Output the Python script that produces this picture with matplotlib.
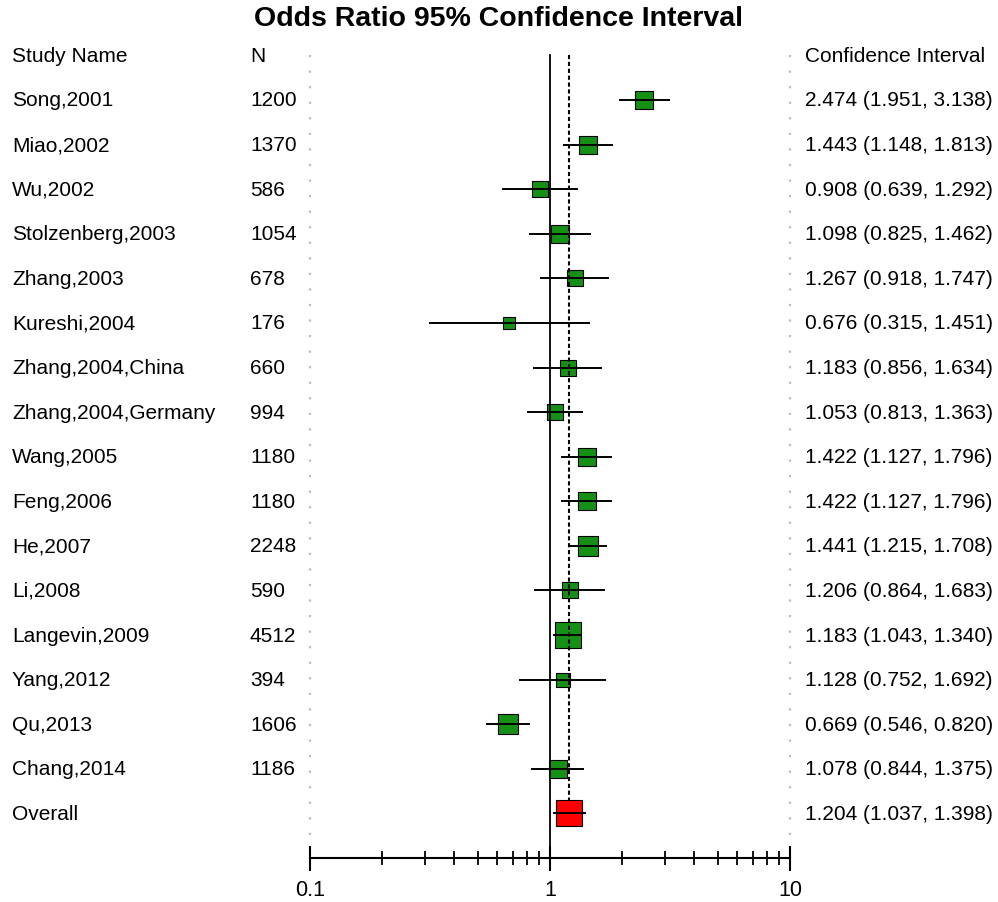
import matplotlib
matplotlib.use('Agg')

import numpy as np
import matplotlib.pyplot as plt
from matplotlib.transforms import blended_transform_factory
from matplotlib.ticker import FixedLocator, NullFormatter

plt.rcParams['font.family'] = ['Liberation Sans', 'DejaVu Sans']

studies = ["Song,2001", "Miao,2002", "Wu,2002", "Stolzenberg,2003", "Zhang,2003",
           "Kureshi,2004", "Zhang,2004,China", "Zhang,2004,Germany", "Wang,2005",
           "Feng,2006", "He,2007", "Li,2008", "Langevin,2009", "Yang,2012",
           "Qu,2013", "Chang,2014"]
n = [1200, 1370, 586, 1054, 678, 176, 660, 994, 1180, 1180, 2248, 590, 4512,
     394, 1606, 1186]
odds = [2.474, 1.443, 0.908, 1.098, 1.267, 0.676, 1.183, 1.053, 1.422, 1.422,
        1.441, 1.206, 1.183, 1.128, 0.669, 1.078]
lower = [1.951, 1.148, 0.639, 0.825, 0.918, 0.315, 0.856, 0.813, 1.127, 1.127,
         1.215, 0.864, 1.043, 0.752, 0.546, 0.844]
upper = [3.138, 1.813, 1.292, 1.462, 1.747, 1.451, 1.634, 1.363, 1.796, 1.796,
         1.708, 1.683, 1.340, 1.692, 0.820, 1.375]
overall = (1.204, 1.037, 1.398)

fig = plt.figure(figsize=(9.98, 9.03), dpi=100)
W, H = 998, 903
# axes spans 0.1..10 horizontally, header row (-1) to axis row (17)
ax = fig.add_axes([310 / W, 1 - 859 / H, 480 / W, (859 - 56.4) / H])
ax.set_xscale('log')
ax.set_xlim(0.1, 10)
ax.set_ylim(17, -1)

for s in ['top', 'left', 'right']:
    ax.spines[s].set_visible(False)
ax.spines['bottom'].set_linewidth(1.5)
ax.yaxis.set_visible(False)
ax.xaxis.set_major_locator(FixedLocator([0.1, 1, 10]))
ax.xaxis.set_minor_locator(FixedLocator([k * d for d in (0.1, 1) for k in range(2, 10)]))
ax.xaxis.set_minor_formatter(NullFormatter())
ax.set_xticklabels(["0.1", "1", "10"])
ax.tick_params(which='major', direction='inout', length=18, width=1.5, labelsize=15.5, pad=6)
ax.tick_params(which='minor', direction='inout', length=10, width=1.3)

# reference lines
ax.plot([0.1, 0.1], [-1, 16.6], ls=(0, (1, 6)), color='#bcbcbc', lw=1.6, clip_on=False)
ax.plot([10, 10], [-1, 16.6], ls=(0, (1, 6)), color='#bcbcbc', lw=1.6, clip_on=False)
ax.plot([1, 1], [-1, 17], color='black', lw=1.3, clip_on=False, zorder=4)
ax.plot([overall[0]] * 2, [-1, 15.7], color='black', lw=1.5, ls=(0, (2, 1.3)),
        clip_on=False, zorder=4)

rows = np.arange(len(studies))
for i in rows:
    ax.plot([lower[i], upper[i]], [i, i], color='black', lw=1.4, zorder=3)
    size = 9 + 0.25 * np.sqrt(n[i])
    ax.plot(odds[i], i, marker='s', ms=size * 0.72, mfc='#168f16', mec='black',
            mew=0.8, zorder=2)

yo = len(studies)
ax.plot([overall[1], overall[2]], [yo, yo], color='black', lw=1.4, zorder=3)
ax.plot(overall[0], yo, marker='s', ms=26 * 0.72, mfc='#ff0000', mec='black',
        mew=0.8, zorder=2)

# text columns
tr = blended_transform_factory(fig.transFigure, ax.transData)
fs = 15
ax.text(12 / W, -1, "Study Name", transform=tr, fontsize=fs, va='center')
ax.text(250 / W, -1, "N", transform=tr, fontsize=fs, va='center')
ax.text(805 / W, -1, "Confidence Interval", transform=tr, fontsize=fs, va='center')
for i in rows:
    ax.text(12 / W, i, studies[i], transform=tr, fontsize=fs, va='center')
    ax.text(250 / W, i, str(n[i]), transform=tr, fontsize=fs, va='center')
    ax.text(805 / W, i, f"{odds[i]:.3f} ({lower[i]:.3f}, {upper[i]:.3f})",
            transform=tr, fontsize=fs, va='center')
ax.text(12 / W, yo, "Overall", transform=tr, fontsize=fs, va='center')
ax.text(805 / W, yo, f"{overall[0]:.3f} ({overall[1]:.3f}, {overall[2]:.3f})",
        transform=tr, fontsize=fs, va='center')

fig.text(0.5, 1 - 19 / H, "Odds Ratio 95% Confidence Interval", ha='center',
         va='center', fontsize=20.5, fontweight='bold')

fig.savefig("out.png", dpi=100)
